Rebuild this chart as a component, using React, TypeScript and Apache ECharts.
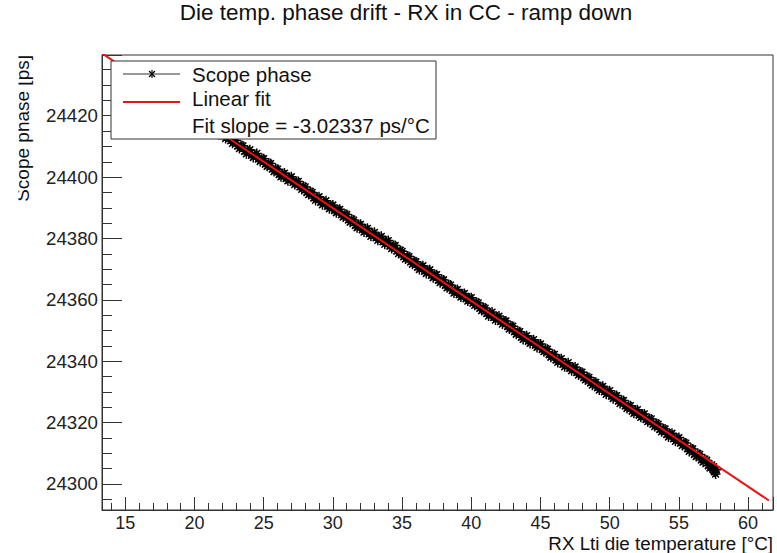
import React, { useEffect, useRef } from "react";
import * as echarts from "echarts";

const phaseTemp = [
  21.0, 21.125, 21.25, 21.375, 21.5, 21.625, 21.75, 21.875,
  22.0, 22.125, 22.25, 22.375, 22.5, 22.625, 22.75, 22.875,
  23.0, 23.125, 23.25, 23.375, 23.5, 23.625, 23.75, 23.875,
  24.0, 24.125, 24.25, 24.375, 24.5, 24.625, 24.75, 24.875,
  25.0, 25.125, 25.25, 25.375, 25.5, 25.625, 25.75, 25.875,
  26.0, 26.125, 26.25, 26.375, 26.5, 26.625, 26.75, 26.875,
  27.0, 27.125, 27.25, 27.375, 27.5, 27.625, 27.75, 27.875,
  28.0, 28.125, 28.25, 28.375, 28.5, 28.625, 28.75, 28.875,
  29.0, 29.125, 29.25, 29.375, 29.5, 29.625, 29.75, 29.875,
  30.0, 30.125, 30.25, 30.375, 30.5, 30.625, 30.75, 30.875,
  31.0, 31.125, 31.25, 31.375, 31.5, 31.625, 31.75, 31.875,
  32.0, 32.125, 32.25, 32.375, 32.5, 32.625, 32.75, 32.875,
  33.0, 33.125, 33.25, 33.375, 33.5, 33.625, 33.75, 33.875,
  34.0, 34.125, 34.25, 34.375, 34.5, 34.625, 34.75, 34.875,
  35.0, 35.125, 35.25, 35.375, 35.5, 35.625, 35.75, 35.875,
  36.0, 36.125, 36.25, 36.375, 36.5, 36.625, 36.75, 36.875,
  37.0, 37.125, 37.25, 37.375, 37.5, 37.625, 37.75, 37.875,
  38.0, 38.125, 38.25, 38.375, 38.5, 38.625, 38.75, 38.875,
  39.0, 39.125, 39.25, 39.375, 39.5, 39.625, 39.75, 39.875,
  40.0, 40.125, 40.25, 40.375, 40.5, 40.625, 40.75, 40.875,
  41.0, 41.125, 41.25, 41.375, 41.5, 41.625, 41.75, 41.875,
  42.0, 42.125, 42.25, 42.375, 42.5, 42.625, 42.75, 42.875,
  43.0, 43.125, 43.25, 43.375, 43.5, 43.625, 43.75, 43.875,
  44.0, 44.125, 44.25, 44.375, 44.5, 44.625, 44.75, 44.875,
  45.0, 45.125, 45.25, 45.375, 45.5, 45.625, 45.75, 45.875,
  46.0, 46.125, 46.25, 46.375, 46.5, 46.625, 46.75, 46.875,
  47.0, 47.125, 47.25, 47.375, 47.5, 47.625, 47.75, 47.875,
  48.0, 48.125, 48.25, 48.375, 48.5, 48.625, 48.75, 48.875,
  49.0, 49.125, 49.25, 49.375, 49.5, 49.625, 49.75, 49.875,
  50.0, 50.125, 50.25, 50.375, 50.5, 50.625, 50.75, 50.875,
  51.0, 51.125, 51.25, 51.375, 51.5, 51.625, 51.75, 51.875,
  52.0, 52.125, 52.25, 52.375, 52.5, 52.625, 52.75, 52.875,
  53.0, 53.125, 53.25, 53.375, 53.5, 53.625, 53.75, 53.875,
  54.0, 54.125, 54.25, 54.375, 54.5, 54.625, 54.75, 54.875,
  55.0, 55.125, 55.25, 55.375, 55.5, 55.625, 55.75, 55.875,
  56.0, 56.125, 56.25, 56.375, 56.5, 56.625, 56.75, 56.875,
  57.0, 57.125, 57.25, 57.375, 57.5, 57.55, 57.6, 57.65, 57.7,
];
const phaseValue = [
  24418.0, 24416.2, 24415.4, 24416.4, 24416.5, 24414.7, 24413.9, 24414.9,
  24415.2, 24413.4, 24412.6, 24413.6, 24413.6, 24411.8, 24411.0, 24412.0,
  24411.9, 24410.1, 24409.3, 24410.3, 24410.2, 24408.4, 24407.6, 24408.6,
  24408.9, 24407.1, 24406.4, 24407.4, 24407.7, 24405.9, 24405.1, 24406.1,
  24406.0, 24404.2, 24403.5, 24404.5, 24404.4, 24402.6, 24401.8, 24402.8,
  24402.6, 24400.8, 24400.1, 24401.1, 24401.3, 24399.5, 24398.8, 24399.8,
  24400.1, 24398.3, 24397.6, 24398.6, 24398.6, 24396.8, 24396.0, 24397.0,
  24396.8, 24395.0, 24394.3, 24395.3, 24395.0, 24393.2, 24392.4, 24393.4,
  24393.6, 24391.8, 24391.0, 24392.0, 24392.3, 24390.5, 24389.7, 24390.7,
  24390.9, 24389.1, 24388.4, 24389.4, 24389.5, 24387.7, 24387.0, 24388.0,
  24387.8, 24386.0, 24385.3, 24386.3, 24386.0, 24384.2, 24383.5, 24384.5,
  24384.6, 24382.8, 24382.1, 24383.1, 24383.3, 24381.5, 24380.7, 24381.7,
  24382.0, 24380.2, 24379.4, 24380.4, 24380.7, 24378.9, 24378.1, 24379.1,
  24379.3, 24377.5, 24376.7, 24377.7, 24377.7, 24375.9, 24375.1, 24376.1,
  24375.8, 24374.0, 24373.3, 24374.3, 24374.1, 24372.3, 24371.6, 24372.6,
  24372.4, 24370.6, 24369.9, 24370.9, 24371.1, 24369.3, 24368.6, 24369.6,
  24369.8, 24368.0, 24367.2, 24368.2, 24368.2, 24366.4, 24365.6, 24366.6,
  24366.5, 24364.7, 24363.9, 24364.9, 24364.8, 24363.0, 24362.2, 24363.2,
  24363.4, 24361.6, 24360.9, 24361.9, 24362.1, 24360.3, 24359.6, 24360.6,
  24360.7, 24358.9, 24358.2, 24359.2, 24359.0, 24357.2, 24356.5, 24357.5,
  24357.3, 24355.5, 24354.7, 24355.7, 24356.0, 24354.2, 24353.4, 24354.4,
  24354.7, 24352.9, 24352.1, 24353.1, 24353.1, 24351.3, 24350.5, 24351.5,
  24351.4, 24349.6, 24348.8, 24349.8, 24349.6, 24347.8, 24347.1, 24348.1,
  24348.3, 24346.5, 24345.8, 24346.8, 24347.0, 24345.2, 24344.5, 24345.5,
  24345.6, 24343.8, 24343.1, 24344.1, 24343.9, 24342.1, 24341.3, 24342.3,
  24342.2, 24340.4, 24339.6, 24340.6, 24340.8, 24339.0, 24338.2, 24339.2,
  24339.5, 24337.7, 24336.9, 24337.9, 24338.1, 24336.3, 24335.5, 24336.5,
  24336.4, 24334.6, 24333.9, 24334.9, 24334.7, 24332.9, 24332.2, 24333.2,
  24333.1, 24331.3, 24330.6, 24331.6, 24331.8, 24330.0, 24329.2, 24330.2,
  24330.4, 24328.6, 24327.8, 24328.8, 24328.8, 24327.0, 24326.2, 24327.2,
  24327.2, 24325.4, 24324.6, 24325.6, 24325.5, 24323.7, 24323.0, 24324.0,
  24324.2, 24322.4, 24321.7, 24322.7, 24322.8, 24321.0, 24320.3, 24321.3,
  24321.2, 24319.4, 24318.7, 24319.7, 24319.5, 24317.7, 24317.0, 24318.0,
  24317.9, 24316.1, 24315.3, 24316.3, 24316.5, 24314.7, 24313.9, 24314.9,
  24315.1, 24313.3, 24312.5, 24313.5, 24313.3, 24311.5, 24310.6, 24311.6,
  24311.4, 24309.6, 24308.9, 24309.9, 24309.6, 24307.8, 24307.1, 24308.1,
  24307.7, 24305.9, 24305.2, 24306.2, 24305.6, 24304.3, 24303.9, 24303.2, 24304.6,
];

// Linear fit line end points
const fitTemp = [13.3, 61.5];
const fitValue = [24440.4, 24294.6];

const titleText = "Die temp. phase drift - RX in CC - ramp down";
const xTitle = "RX Lti die temperature [\u00B0C]";
const yTitle = "Scope phase [ps]";
const legendLabels = ["Scope phase", "Linear fit", "Fit slope = -3.02337 ps/\u00B0C"];

const FONT = "'Liberation Sans', Arial, Helvetica, sans-serif";
const STAR = "path://M5,0L5,10M0,5L10,5M1.6,1.6L8.4,8.4M1.6,8.4L8.4,1.6";

export default function App() {
  const ref = useRef<HTMLDivElement>(null);

  useEffect(() => {
    if (!ref.current) return;
    const chart = echarts.init(ref.current, null, { renderer: "svg" });

    const phaseData = phaseTemp.map((t, i) => [t, phaseValue[i]]);
    const fitData = fitTemp.map((t, i) => [t, fitValue[i]]);

    const legendText = (txt: string, y: number) => ({
      type: "text",
      x: 192,
      y,
      z: 102,
      style: {
        text: txt,
        fontSize: 20.5,
        fontFamily: FONT,
        fill: "#111",
        textAlign: "left",
        textVerticalAlign: "middle",
        verticalAlign: "middle",
      },
    });

    const option: any = {
      animation: false,
      backgroundColor: "#ffffff",
      grid: {
        left: 102,
        top: 55,
        right: 4,
        bottom: 43,
        show: true,
        borderColor: "#333",
        borderWidth: 1,
        backgroundColor: "transparent",
        containLabel: false,
        outerBoundsMode: "none",
      },
      xAxis: {
        type: "value",
        min: 13.32,
        max: 61.8,
        splitNumber: 10,
        minInterval: 5,
        maxInterval: 5,
        axisLine: { show: true, onZero: false, lineStyle: { color: "#333", width: 1 } },
        axisTick: { show: true, inside: true, length: 13, lineStyle: { color: "#333", width: 1 } },
        minorTick: { show: true, splitNumber: 5, length: 7, lineStyle: { color: "#333", width: 1 } },
        splitLine: { show: false },
        minorSplitLine: { show: false },
        axisLabel: {
          show: true,
          margin: 5,
          fontSize: 18,
          lineHeight: 15,
          fontFamily: FONT,
          color: "#222",
          showMinLabel: false,
          showMaxLabel: false,
          formatter: (v: number) => String(v),
        },
      },
      yAxis: {
        type: "value",
        min: 24291.5,
        max: 24439.8,
        splitNumber: 7,
        minInterval: 20,
        maxInterval: 20,
        axisLine: { show: true, onZero: false, lineStyle: { color: "#333", width: 1 } },
        axisTick: { show: true, inside: true, length: 20, lineStyle: { color: "#333", width: 1 } },
        minorTick: { show: true, splitNumber: 4, length: 10, lineStyle: { color: "#333", width: 1 } },
        splitLine: { show: false },
        minorSplitLine: { show: false },
        axisLabel: {
          show: true,
          margin: 4,
          fontSize: 18.7,
          fontFamily: FONT,
          color: "#222",
          showMinLabel: false,
          showMaxLabel: false,
          formatter: (v: number) => String(v),
        },
      },
      series: [
        {
          name: legendLabels[0],
          type: "line",
          data: phaseData,
          symbol: STAR,
          symbolSize: 10,
          showSymbol: true,
          showAllSymbol: true,
          lineStyle: { color: "#000", width: 1.4 },
          itemStyle: { color: "#000", borderColor: "#000", borderWidth: 1.5 },
          z: 2,
          clip: true,
        },
        {
          name: legendLabels[1],
          type: "line",
          data: fitData,
          symbol: "none",
          lineStyle: { color: "#ee1111", width: 2 },
          z: 3,
          clip: true,
        },
      ],
      graphic: [
        {
          type: "text",
          x: 406,
          y: 12.8,
          style: {
            text: titleText,
            fontSize: 22.5,
            fontFamily: FONT,
            fill: "#111",
            textAlign: "center",
            textVerticalAlign: "middle",
            verticalAlign: "middle",
          },
        },
        {
          type: "text",
          x: 22.9,
          y: 55,
          z: 10,
          rotation: Math.PI / 2,
          style: {
            text: yTitle,
            fontSize: 19,
            fontFamily: FONT,
            fill: "#111",
            textAlign: "right",
            textVerticalAlign: "middle",
            verticalAlign: "middle",
          },
        },
        {
          type: "rect",
          shape: { x: 0, y: 30, width: 18.5, height: 190 },
          style: { fill: "#ffffff" },
          z: 50,
        },
        {
          type: "text",
          x: 773,
          y: 543.5,
          style: {
            text: xTitle,
            fontSize: 18.8,
            lineHeight: 15,
            fontFamily: FONT,
            fill: "#111",
            textAlign: "right",
            textVerticalAlign: "middle",
            verticalAlign: "middle",
          },
        },
        {
          type: "rect",
          z: 100,
          shape: { x: 111, y: 61, width: 325, height: 78 },
          style: { fill: "#ffffff", stroke: "#333", lineWidth: 1 },
        },
        {
          type: "line",
          z: 101,
          shape: { x1: 123, y1: 74, x2: 180, y2: 74 },
          style: { stroke: "#333", lineWidth: 1 },
        },
        {
          type: "line",
          z: 101,
          shape: { x1: 152, y1: 70, x2: 152, y2: 78 },
          style: { stroke: "#000", lineWidth: 1.2 },
        },
        {
          type: "line",
          z: 101,
          shape: { x1: 149, y1: 71, x2: 155, y2: 77 },
          style: { stroke: "#000", lineWidth: 1.2 },
        },
        {
          type: "line",
          z: 101,
          shape: { x1: 149, y1: 77, x2: 155, y2: 71 },
          style: { stroke: "#000", lineWidth: 1.2 },
        },
        {
          type: "line",
          z: 101,
          shape: { x1: 123, y1: 102, x2: 180, y2: 102 },
          style: { stroke: "#ee1111", lineWidth: 2 },
        },
        legendText(legendLabels[0], 74.1),
        legendText(legendLabels[1], 98.8),
        legendText(legendLabels[2], 125.1),
      ],
    };

    chart.setOption(option);
    return () => chart.dispose();
  }, []);

  return <div ref={ref} style={{ width: 777, height: 553, position: "absolute", left: 0, top: 0 }} />;
}
